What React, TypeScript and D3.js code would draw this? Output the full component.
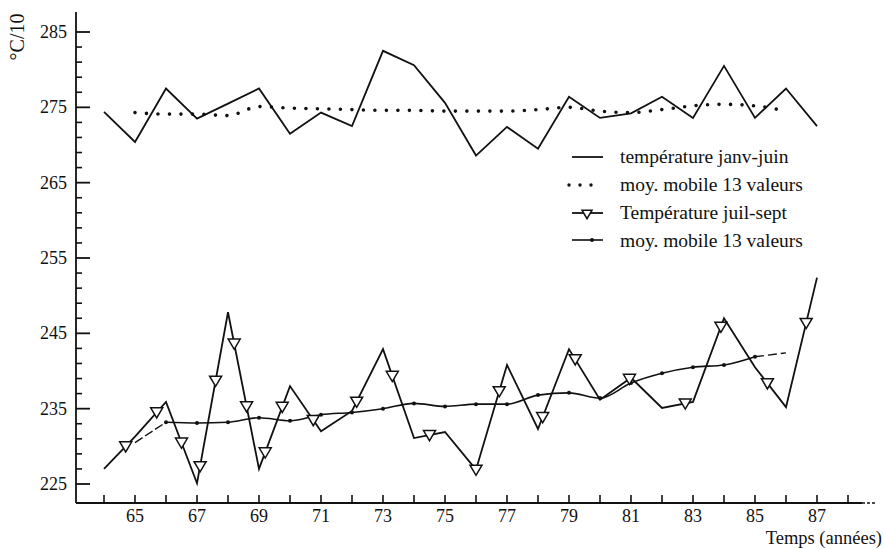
import React from "react";
import * as d3 from "d3";

// Years (19xx)
const years = [64, 65, 66, 67, 68, 69, 70, 71, 72, 73, 74, 75, 76, 77, 78, 79, 80, 81, 82, 83, 84, 85, 86, 87];
// température janv-juin (°C/10)
const janvJuin = [274.4, 270.4, 277.5, 273.5, 275.5, 277.5, 271.5, 274.3, 272.5, 282.5, 280.6, 275.6, 268.6, 272.4, 269.5, 276.4, 273.6, 274.2, 276.4, 273.6, 280.5, 273.6, 277.5, 272.5];
// moyenne mobile janv-juin (years 65..86)
const maYears = [65, 66, 67, 68, 69, 70, 71, 72, 73, 74, 75, 76, 77, 78, 79, 80, 81, 82, 83, 84, 85, 86];
const maJanvJuin = [274.3, 274.1, 274.1, 273.9, 275.1, 274.9, 274.8, 274.7, 274.6, 274.6, 274.5, 274.5, 274.5, 274.7, 275.0, 274.5, 274.3, 274.7, 275.2, 275.4, 275.2, 274.5];
// Température juil-sept
const juilSept = [227.0, 231.3, 235.9, 225.1, 247.8, 227.0, 238.0, 232.0, 234.7, 242.9, 231.1, 231.9, 226.9, 240.8, 232.3, 242.9, 236.2, 239.1, 235.1, 235.9, 247.0, 240.5, 235.2, 252.4];
// triangle marker positions along the juil-sept line (fractional years)
const juilSeptMarkerYears = [64.7, 65.7, 66.5, 67.1, 67.6, 68.2, 68.6, 69.2, 69.75, 70.75, 72.15, 73.3, 74.5, 76.0, 76.75, 78.15, 79.2, 80.95, 82.75, 83.9, 85.4, 86.65];
// moyenne mobile juil-sept (years 65..86)
const maJuilSept = [230.5, 233.2, 233.1, 233.2, 233.8, 233.4, 234.2, 234.5, 235.0, 235.7, 235.3, 235.6, 235.6, 236.8, 237.1, 236.4, 238.4, 239.7, 240.5, 240.8, 241.9, 242.4];

const yMajorTicks = [225, 235, 245, 255, 265, 275, 285];
const yMinorTicks = [227, 229, 231, 233, 237, 239, 241, 243, 247, 249, 251, 253, 257, 259, 261, 263, 267, 269, 271, 273, 277, 279, 281, 283];
const xTickYears = [64, 65, 66, 67, 68, 69, 70, 71, 72, 73, 74, 75, 76, 77, 78, 79, 80, 81, 82, 83, 84, 85, 86, 87, 88];
const xLabelYears = [65, 67, 69, 71, 73, 75, 77, 79, 81, 83, 85, 87];

const legendLabels = [
  "température janv-juin",
  "moy. mobile 13 valeurs",
  "Température juil-sept",
  "moy. mobile 13 valeurs",
];

const FONT = "'Liberation Serif', 'Times New Roman', serif";

export default function App() {
  const W = 884;
  const H = 549;
  const x = d3.scaleLinear().domain([65, 87]).range([135, 817]);
  const y = d3.scaleLinear().domain([225, 285]).range([484, 32]);
  const axisX = 76;
  const axisY = 503;

  const pts = (xs: number[], vs: number[]) => xs.map((yr, i) => [yr, vs[i]] as [number, number]);
  const straight = d3.line<[number, number]>().x((d) => x(d[0])).y((d) => y(d[1]));
  const smooth = d3
    .line<[number, number]>()
    .x((d) => x(d[0]))
    .y((d) => y(d[1]))
    .curve(d3.curveMonotoneX);

  const jjPts = pts(years, janvJuin);
  const maJJPts = pts(maYears, maJanvJuin);
  const jsPts = pts(years, juilSept);
  const maJSPts = pts(maYears, maJuilSept);

  const interpJS = (yr: number) => {
    const i = Math.min(Math.floor(yr - years[0]), years.length - 2);
    const t = yr - years[i];
    return juilSept[i] + (juilSept[i + 1] - juilSept[i]) * t;
  };

  const tri = (cx: number, cy: number, s = 6) =>
    `M${cx - s},${cy - s * 0.75} L${cx + s},${cy - s * 0.75} L${cx},${cy + s * 0.95} Z`;

  const legX0 = 572;
  const legX1 = 603;
  const legTextX = 620;
  const legRows = [157, 185, 213, 240];
  const legBase = [163, 191, 219, 247];

  return (
    <svg
      width={W}
      height={H}
      style={{ position: "absolute", left: 0, top: 0, background: "#fff" }}
      fontFamily={FONT}
    >
      <rect x={0} y={0} width={W} height={H} fill="#fff" />
      {/* axes */}
      <line x1={axisX} y1={12} x2={axisX} y2={axisY} stroke="#111" strokeWidth={1.8} />
      <line x1={axisX} y1={axisY} x2={862} y2={axisY} stroke="#111" strokeWidth={1.8} />
      <line x1={862} y1={axisY} x2={876} y2={axisY} stroke="#111" strokeWidth={1.4} strokeDasharray="3 2" />

      {yMajorTicks.map((v) => (
        <g key={"ym" + v}>
          <line x1={axisX} x2={axisX + 14} y1={y(v)} y2={y(v)} stroke="#111" strokeWidth={1.8} />
          <text x={67} y={y(v) + 6} textAnchor="end" fontSize={18} fill="#111">
            {v}
          </text>
        </g>
      ))}
      {yMinorTicks.map((v) => (
        <line key={"yn" + v} x1={axisX} x2={axisX + 6} y1={y(v)} y2={y(v)} stroke="#111" strokeWidth={1.6} />
      ))}
      {xTickYears.map((v) => (
        <line key={"xt" + v} x1={x(v)} x2={x(v)} y1={axisY} y2={axisY - 8} stroke="#111" strokeWidth={1.6} />
      ))}
      {xLabelYears.map((v) => (
        <text key={"xl" + v} x={x(v)} y={522} textAnchor="middle" fontSize={18} fill="#111">
          {v}
        </text>
      ))}

      <text
        transform={`translate(24,37) rotate(-90)`}
        textAnchor="middle"
        fontSize={20}
        fill="#111"
      >
        °C/10
      </text>
      <text x={882} y={544} textAnchor="end" fontSize={18.5} fill="#111">
        Temps (années)
      </text>

      {/* janv-juin */}
      <path d={straight(jjPts) || ""} fill="none" stroke="#111" strokeWidth={1.8} strokeLinejoin="miter" />
      <path
        d={smooth(maJJPts) || ""}
        fill="none"
        stroke="#111"
        strokeWidth={3.6}
        strokeLinecap="round"
        strokeDasharray="0 11.5"
      />

      {/* juil-sept moving average */}
      <path d={smooth(maJSPts.slice(1, 21)) || ""} fill="none" stroke="#111" strokeWidth={1.6} />
      <path d={smooth(maJSPts.slice(0, 2)) || ""} fill="none" stroke="#111" strokeWidth={1.4} strokeDasharray="9 3" />
      <path d={smooth(maJSPts.slice(20)) || ""} fill="none" stroke="#111" strokeWidth={1.4} strokeDasharray="9 4" />
      {maJSPts.slice(1, 21).map((d, i) => (
        <circle key={"mad" + i} cx={x(d[0])} cy={y(d[1])} r={2} fill="#111" />
      ))}

      {/* juil-sept */}
      <path d={straight(jsPts) || ""} fill="none" stroke="#111" strokeWidth={1.8} />
      {juilSeptMarkerYears.map((yr, i) => (
        <path key={"tri" + i} d={tri(x(yr), y(interpJS(yr)))} fill="#fff" stroke="#111" strokeWidth={1.5} />
      ))}

      {/* legend */}
      <line x1={legX0} x2={legX1} y1={legRows[0]} y2={legRows[0]} stroke="#111" strokeWidth={1.8} />
      {[569, 580, 591].map((cx) => (
        <circle key={"ld" + cx} cx={cx} cy={legRows[1]} r={1.7} fill="#111" />
      ))}
      <line x1={legX0} x2={legX1} y1={legRows[2]} y2={legRows[2]} stroke="#111" strokeWidth={1.8} />
      <path d={tri(587, legRows[2] + 1, 5)} fill="#fff" stroke="#111" strokeWidth={1.5} />
      <line x1={legX0} x2={legX1} y1={legRows[3]} y2={legRows[3]} stroke="#111" strokeWidth={1.6} />
      <circle cx={592} cy={legRows[3]} r={2} fill="#111" />
      {legendLabels.map((t, i) => (
        <text key={"lt" + i} x={legTextX} y={legBase[i]} fontSize={19.5} fill="#111">
          {t}
        </text>
      ))}
    </svg>
  );
}
